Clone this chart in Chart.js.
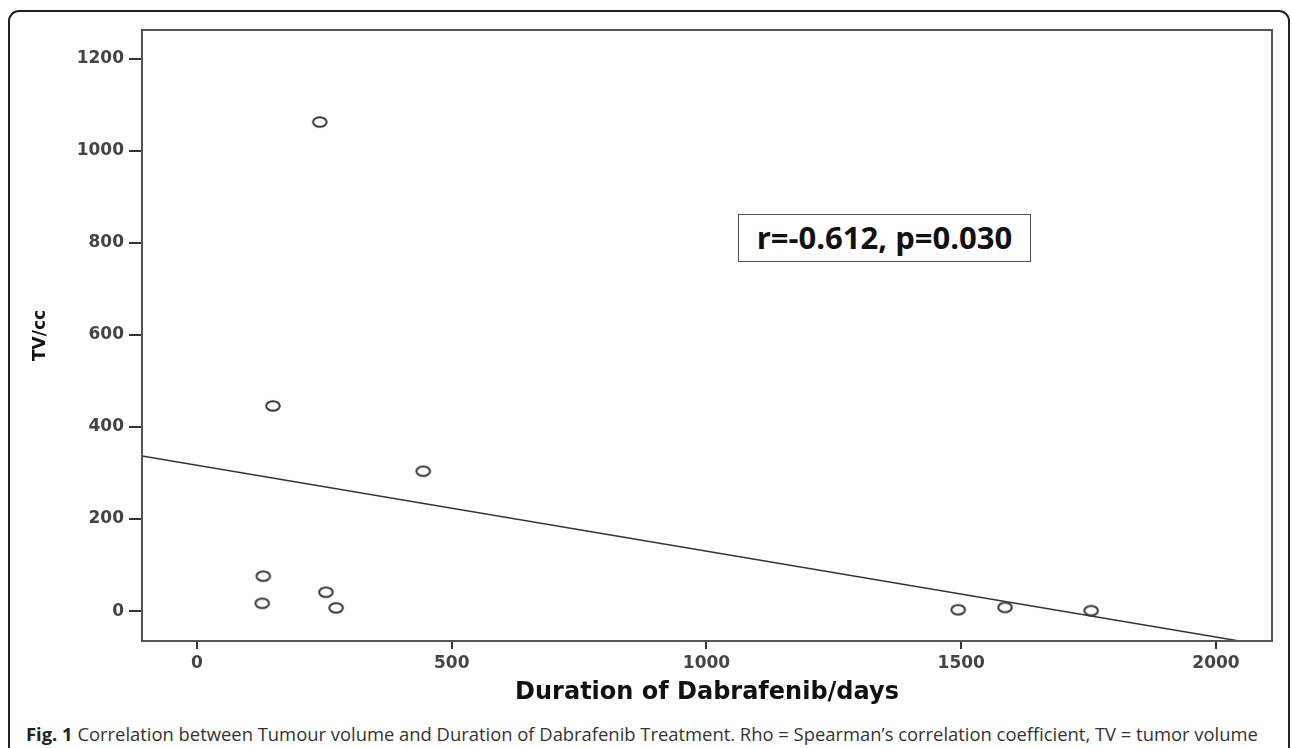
<!DOCTYPE html>
<html>
<head>
<meta charset="utf-8">
<script src="https://cdn.jsdelivr.net/npm/chart.js@4/dist/chart.umd.min.js"></script>
<style>
  html, body { margin: 0; padding: 0; background: #fff; overflow: hidden; }
  body { width: 1292px; height: 748px; position: relative; }
  #frame {
    position: absolute; left: 8px; top: 10px; width: 1282px; height: 760px;
    border: 2px solid #222; border-radius: 11px; box-sizing: border-box;
  }
  #wrap { position: absolute; left: 0; top: 0; width: 1292px; height: 720px; }
  #stat {
    position: absolute; left: 738px; top: 214px; width: 293px; height: 48px;
    border: 1.5px solid #555; box-sizing: border-box; background: #fff;
    font: bold 31px "Open Sans", sans-serif; color: #111;
    text-align: center; line-height: 45px;
  }
  #caption {
    position: absolute; left: 26px; top: 722px; white-space: nowrap;
    font: 18.4px "Open Sans", sans-serif; color: #333; line-height: 24px;
  }
  #caption b { color: #222; }
</style>
</head>
<body>
<div id="frame"></div>
<div id="wrap"><canvas id="chart" width="1292" height="720"></canvas></div>
<div id="stat">r=-0.612, p=0.030</div>
<div id="caption"><b>Fig. 1</b> Correlation between Tumour volume and Duration of Dabrafenib Treatment. Rho = Spearman’s correlation coefficient, TV = tumor volume</div>
<script>
// duration of dabrafenib (days) and tumour volume (cc)
var durationDays = [241, 149, 444, 130, 128, 253, 273, 1494, 1586, 1755];
var tumourVolume = [1063, 446, 304, 76, 17, 41, 7, 3, 8, 1];

// fitted line endpoints
var fitX = [-108, 2046];
var fitY = [337, -65];

var xTicks = [0, 500, 1000, 1500, 2000];
var yTicks = [0, 200, 400, 600, 800, 1000, 1200];

var points = durationDays.map(function (d, i) { return { x: d, y: tumourVolume[i] }; });
var fitLine = fitX.map(function (d, i) { return { x: d, y: fitY[i] }; });

// open elliptical marker
var ring = document.createElement("canvas");
ring.width = 18;
ring.height = 14;
var rc = ring.getContext("2d");
rc.strokeStyle = "#333";
rc.lineWidth = 2;
rc.beginPath();
rc.ellipse(9, 7, 6.8, 4.8, 0, 0, Math.PI * 2);
rc.stroke();

var tickFont = { family: "DejaVu Sans", size: 17, weight: "bold" };

var framePlugin = {
    id: "frame",
    afterDraw: function (chart) {
        var a = chart.chartArea, ctx = chart.ctx;
        ctx.save();
        ctx.strokeStyle = "#555";
        ctx.lineWidth = 2;
        ctx.strokeRect(a.left, a.top, a.right - a.left, a.bottom - a.top);
        ctx.restore();
    }
};

function plain(v) { return String(v); }

var ctx = document.getElementById("chart");
var chart = new Chart(ctx, {
    type: "scatter",
    data: {
        datasets: [{
            label: "TV",
            data: points,
            pointStyle: ring,
            pointRadius: 6,
            pointHoverRadius: 6
        }, {
            label: "Fit",
            data: fitLine,
            showLine: true,
            borderColor: "#333",
            borderWidth: 1.5,
            pointRadius: 0,
            fill: false
        }]
    },
    options: {
        responsive: false,
        animation: false,
        events: [],
        layout: { padding: { top: 30, right: 20, left: 0, bottom: 0 } },
        plugins: { legend: { display: false }, tooltip: { enabled: false } },
        scales: {
            x: {
                type: "linear",
                min: -108,
                max: 2110,
                afterBuildTicks: function (s) { s.ticks = xTicks.map(function (v) { return { value: v }; }); },
                afterFit: function (s) { s.height = 79; },
                grid: { display: true, drawOnChartArea: false, drawTicks: true, tickLength: 8, color: "#333", lineWidth: 2 },
                border: { display: true, color: "#333", width: 2 },
                ticks: { font: tickFont, color: "#444", padding: 4, maxRotation: 0, callback: plain },
                title: {
                    display: true,
                    text: "Duration of Dabrafenib/days",
                    font: { family: "DejaVu Sans", size: 24, weight: "bold" },
                    color: "#111",
                    padding: { top: 0, bottom: 13 }
                }
            },
            y: {
                type: "linear",
                min: -65,
                max: 1263,
                afterBuildTicks: function (s) { s.ticks = yTicks.map(function (v) { return { value: v }; }); },
                afterFit: function (s) { s.width = 142; },
                grid: { display: true, drawOnChartArea: false, drawTicks: true, tickLength: 13, color: "#333", lineWidth: 2 },
                border: { display: true, color: "#333", width: 2 },
                ticks: { font: tickFont, color: "#444", padding: 5, callback: plain },
                title: {
                    display: true,
                    text: "TV/cc",
                    font: { family: "DejaVu Sans", size: 17, weight: "bold" },
                    color: "#111",
                    padding: { top: 30, bottom: 0 }
                }
            }
        }
    },
    plugins: [framePlugin]
});
</script>
</body>
</html>
